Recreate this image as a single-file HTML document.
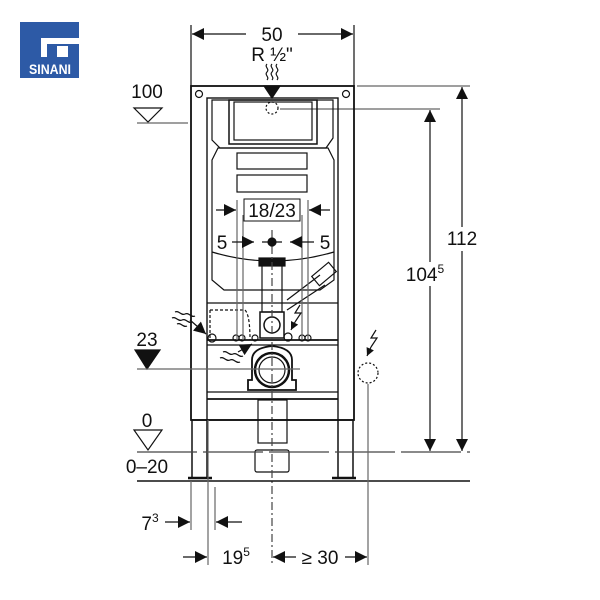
<!DOCTYPE html>
<html><head><meta charset="utf-8"><style>
html,body{margin:0;padding:0;background:#fff;}
svg{display:block;font-family:"Liberation Sans",sans-serif;}
</style></head><body>
<svg width="600" height="600" viewBox="0 0 600 600" xmlns="http://www.w3.org/2000/svg">
<defs>
<marker id="a" viewBox="0 0 10 10" refX="10" refY="5" markerUnits="userSpaceOnUse" markerWidth="16" markerHeight="12" orient="auto-start-reverse"><path d="M0,0L10,5L0,10z" fill="#111"/></marker>
<marker id="s" viewBox="0 0 10 10" refX="10" refY="5" markerUnits="userSpaceOnUse" markerWidth="10" markerHeight="8" orient="auto-start-reverse"><path d="M0,0L10,5L0,10z" fill="#111"/></marker>
</defs>
<!-- logo -->
<rect x="20" y="22" width="59" height="56" fill="#2d5aa6"/>
<path d="M41,38H80V44H47V57H41Z" fill="#fff"/>
<rect x="57" y="46" width="11" height="11" fill="#fff"/>
<text x="50" y="74" font-size="14" font-weight="bold" fill="#fff" text-anchor="middle" textLength="42" lengthAdjust="spacingAndGlyphs">SINANI</text>

<g stroke="#111" fill="none" stroke-width="1.2">
<!-- 50 dim -->
<line x1="191" y1="25" x2="191" y2="86"/><line x1="354" y1="25" x2="354" y2="86"/>
<line x1="192" y1="34" x2="246" y2="34" marker-start="url(#a)"/><line x1="298" y1="34" x2="353" y2="34" marker-end="url(#a)"/>
<!-- wavy -->
<path d="M267,64c-3,3 3,5 0,8s3,5 0,8M272,64c-3,3 3,5 0,8s3,5 0,8M277,64c-3,3 3,5 0,8s3,5 0,8"/>
<path d="M264,86H280L272,98Z" fill="#111"/>
<circle cx="272" cy="108" r="6" stroke-dasharray="2 2"/>
<line x1="280" y1="109" x2="440" y2="109" stroke="#666"/>
<line x1="357" y1="86" x2="470" y2="86" stroke="#666"/>
<!-- frame -->
<rect x="191" y="86" width="163" height="334" stroke-width="1.8"/>
<rect x="207" y="98" width="131" height="322" stroke-width="1.4"/>
<circle cx="199" cy="94" r="3.5"/><circle cx="346" cy="94" r="3.5"/>
<!-- legs -->
<rect x="192" y="420" width="15" height="58" stroke-width="1.5"/>
<rect x="338" y="420" width="15" height="58" stroke-width="1.5"/>
<line x1="188" y1="478" x2="212" y2="478" stroke-width="2.5"/><line x1="332" y1="478" x2="356" y2="478" stroke-width="2.5"/>
<!-- cistern -->
<path d="M212,100H333V138L326,148H220L212,140Z"/>
<rect x="229" y="100" width="88" height="44" stroke-width="1.5"/>
<rect x="234" y="102" width="78" height="38"/>
<path d="M218,148H328L334,160V280L320,290H224L212,280V160Z"/>
<rect x="237" y="153" width="70" height="16"/>
<rect x="237" y="175" width="70" height="17"/>
<path d="M212,252Q272,270 334,252"/>
<!-- cross bars -->
<line x1="207" y1="303" x2="338" y2="303"/>
<line x1="207" y1="340" x2="338" y2="340" stroke-width="1.8"/>
<line x1="207" y1="345" x2="338" y2="345"/>
<line x1="207" y1="392" x2="338" y2="392"/>
<line x1="207" y1="399" x2="338" y2="399" stroke-width="1.8"/>
<path d="M210,310H245Q250,315 250,340" stroke-dasharray="3 2"/>
<line x1="210" y1="310" x2="210" y2="340" stroke-dasharray="3 2"/>
<!-- flush pipe -->
<rect x="262" y="262" width="20" height="50"/>
<rect x="259" y="258" width="26" height="8" fill="#111"/>
<path d="M260,312h24v26h-24z" stroke-width="1.5"/><circle cx="272" cy="325" r="8" stroke-width="1.5"/>
<path d="M287,300L320,275M287,310L325,285"/>
<rect x="318" y="263" width="12" height="22" transform="rotate(50 324 274)"/>
<!-- small circles -->
<g><circle cx="212" cy="338" r="4"/><circle cx="236" cy="338" r="3"/><circle cx="242" cy="338" r="3"/><circle cx="255" cy="338" r="3"/><circle cx="288" cy="337" r="4"/><circle cx="302" cy="338" r="3"/><circle cx="308" cy="338" r="3"/></g>
<!-- outlet -->
<path d="M252,360q0,-12 20,-14q20,2 20,14v20h4v10h-48v-10h4z" stroke-width="1.8"/>
<circle cx="272" cy="370" r="17" stroke-width="2.5"/><circle cx="272" cy="370" r="13"/>
<rect x="258" y="400" width="29" height="43"/>
<rect x="255" y="450" width="34" height="22" rx="2"/>
<!-- center line -->
<line x1="272" y1="230" x2="272" y2="565" stroke-dasharray="8 3 2 3" stroke="#444"/>
<circle cx="272" cy="242" r="4" fill="#111"/>
<!-- extension lines -->
<line x1="237" y1="200" x2="237" y2="340" stroke="#666"/><line x1="243" y1="215" x2="243" y2="340" stroke="#666"/>
<line x1="302" y1="215" x2="302" y2="340" stroke="#666"/><line x1="308" y1="200" x2="308" y2="340" stroke="#666"/>
<line x1="216" y1="210" x2="236" y2="210" marker-end="url(#a)"/><line x1="309" y1="210" x2="330" y2="210" marker-start="url(#a)"/>
<line x1="232" y1="242" x2="254" y2="242" marker-end="url(#a)"/><line x1="290" y1="242" x2="314" y2="242" marker-start="url(#a)"/>
<line x1="262" y1="242" x2="282" y2="242"/>
<!-- levels -->
<path d="M134,108H162L148,122Z"/><line x1="137" y1="123" x2="188" y2="123" stroke="#666"/>
<path d="M135,350H160L147,369Z" fill="#111"/><line x1="137" y1="369" x2="300" y2="369" stroke="#666"/>
<path d="M134,430H162L148,450Z"/>
<line x1="137" y1="452" x2="470" y2="452" stroke="#444" stroke-dasharray="60 6"/>
<line x1="137" y1="481" x2="470" y2="481" stroke-width="1.6"/>
<!-- right dims -->
<line x1="462" y1="87" x2="462" y2="451" marker-start="url(#a)" marker-end="url(#a)"/>
<line x1="430" y1="110" x2="430" y2="451" marker-start="url(#a)" marker-end="url(#a)"/>
<!-- electrical -->
<path d="M376,330l-5,8h6l-6,9" /><line x1="371" y1="347" x2="367" y2="356" marker-end="url(#s)"/>
<circle cx="368" cy="373" r="10" stroke-dasharray="2 2"/>
<line x1="368" y1="384" x2="368" y2="565" stroke="#666"/>
<path d="M300,305l-5,8h6l-6,9"/><line x1="295" y1="322" x2="291" y2="330" marker-end="url(#s)"/>
<!-- waves left -->
<path d="M175,312c4,-2 6,4 10,2s6,4 10,2M172,318c4,-2 6,4 10,2s6,4 10,2M177,324c4,-2 6,4 10,2" />
<line x1="190" y1="320" x2="206" y2="334" marker-end="url(#a)"/>
<path d="M223,352c4,-2 6,4 10,2s6,4 10,2M220,358c4,-2 6,4 10,2s6,4 10,2"/>
<line x1="238" y1="352" x2="252" y2="344" marker-end="url(#a)"/>
<!-- bottom dims -->
<line x1="191" y1="481" x2="191" y2="530" stroke="#666"/>
<line x1="215" y1="487" x2="215" y2="530" stroke="#666"/>
<line x1="208" y1="420" x2="208" y2="565" stroke="#666"/>
<line x1="165" y1="522" x2="190" y2="522" marker-end="url(#a)"/>
<line x1="216" y1="522" x2="242" y2="522" marker-start="url(#a)"/>
<line x1="183" y1="557" x2="207" y2="557" marker-end="url(#a)"/>
<line x1="273" y1="557" x2="296" y2="557" marker-start="url(#a)"/>
<line x1="345" y1="557" x2="367" y2="557" marker-end="url(#a)"/>
</g>
<g font-size="19" fill="#111" text-anchor="middle">
<text x="272" y="41">50</text>
<text x="272" y="61">R ½"</text>
<rect x="244" y="199" width="56" height="22" fill="#fff" stroke="#111"/>
<text x="272" y="217">18/23</text>
<text x="222" y="249">5</text><text x="325" y="249">5</text>
<text x="147" y="98">100</text>
<text x="147" y="346">23</text>
<text x="147" y="427">0</text>
<text x="147" y="473">0–20</text>
<rect x="443" y="227" width="38" height="24" fill="#fff"/>
<text x="462" y="245">112</text>
<rect x="406" y="262" width="48" height="24" fill="#fff"/>
<text x="425" y="281">104<tspan font-size="12" dy="-8">5</tspan></text>
<text x="150" y="530">7<tspan font-size="12" dy="-8">3</tspan></text>
<text x="236" y="564">19<tspan font-size="12" dy="-8">5</tspan></text>
<text x="320" y="564">≥ 30</text>
</g>
</svg>
</body></html>
